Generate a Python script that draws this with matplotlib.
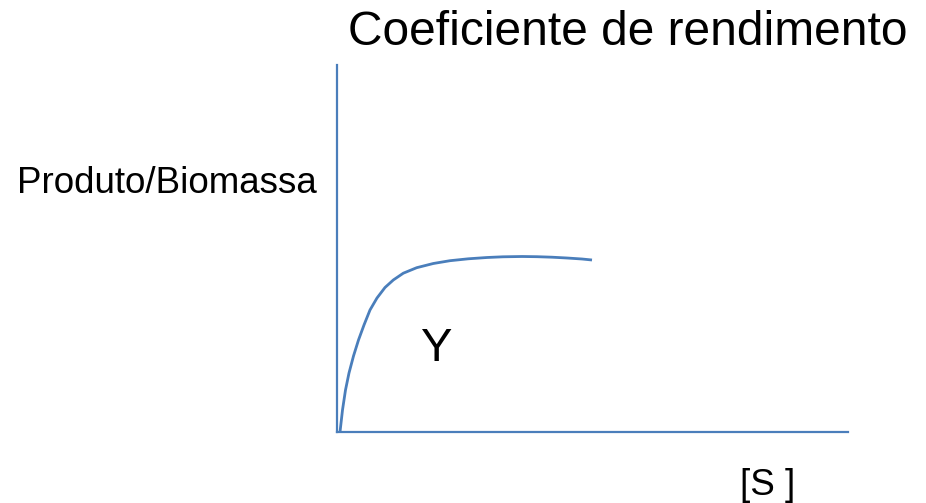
import matplotlib
matplotlib.use("Agg")
import matplotlib.pyplot as plt

plt.rcParams['font.family'] = ['Liberation Sans', 'DejaVu Sans']

# Curve (x = substrate, y = product/biomass yield), arbitrary units
s_values = [3, 5.5, 8.5, 12, 16.5, 21.5, 27, 33, 40, 48, 56.3, 66.3, 79.7,
            96.3, 113, 131.3, 150, 166, 185, 200, 215, 230, 245, 255]
y_values = [0, 22, 42, 59, 76, 92, 107, 122, 134, 144.5, 152, 158.8, 164.3,
            168.5, 171.3, 173.2, 174.5, 175.2, 175.5, 175.3, 174.8, 174, 173, 172]

title_text = "Coeficiente de rendimento"
ylabel_text = "Produto/Biomassa"
xlabel_text = "[S ]"
curve_label = "Y"

W, H = 926, 503
fig = plt.figure(figsize=(W / 100, H / 100), dpi=100)

ax_left, ax_right, ax_bottom, ax_top = 337, 848, 432, 65
ax = fig.add_axes([ax_left / W, 1 - ax_bottom / H,
                   (ax_right - ax_left) / W, (ax_bottom - ax_top) / H])
ax.set_xlim(0, ax_right - ax_left)
ax.set_ylim(0, ax_bottom - ax_top)

blue = '#4a7ebb'
ax.plot(s_values, y_values, color=blue, lw=2.0, clip_on=False,
        solid_capstyle='butt', solid_joinstyle='round')

for side in ['top', 'right']:
    ax.spines[side].set_visible(False)
for side in ['left', 'bottom']:
    ax.spines[side].set_color(blue)
    ax.spines[side].set_linewidth(1.6)
ax.set_xticks([])
ax.set_yticks([])
ax.patch.set_alpha(0)


def ftext(px, py, s, size, ha):
    fig.text(px / W, 1 - py / H, s, fontsize=size, ha=ha, va='baseline',
             color='black')


ftext(628, 45, title_text, 34.5, 'center')
ftext(17, 193, ylabel_text, 26.5, 'left')
ftext(437, 361, curve_label, 34, 'center')
ftext(768, 495, xlabel_text, 26.5, 'center')

fig.savefig("out.png", dpi=100, facecolor='white')
